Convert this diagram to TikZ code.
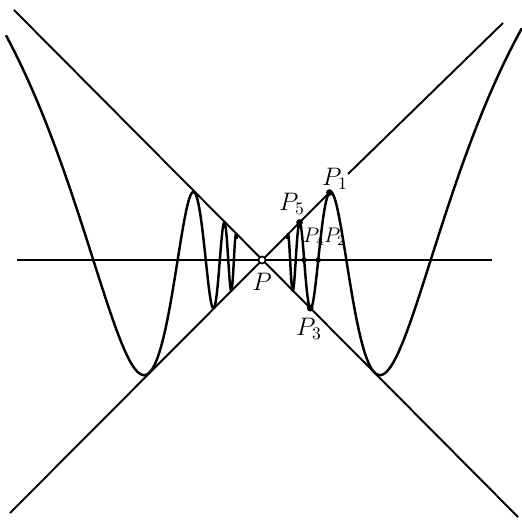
\documentclass[tikz,border=0pt]{standalone}
\usetikzlibrary{positioning}
\tikzset{
  axisline/.style={line width=0.9pt},
  sideline/.style={line width=1.1pt},
  curveline/.style={line width=1.4pt,line join=round},
  lbl/.style={inner sep=0.5pt,font=\Large},
  slbl/.style={inner sep=0.5pt,font=\large}
}
\begin{document}
\begin{tikzpicture}[x=0.2mm,y=0.2mm]
        \def\c{530}
        \useasboundingbox (-262,-260) rectangle (260,260);
        \coordinate (p) at (0,0);
        \coordinate (l1) at (-248,250);
        \coordinate (l2) at (256,-257);
        \coordinate (l3) at (-252,-253);
        \coordinate (l4) at (241,237);
        \coordinate (l5) at (86,86);
        \coordinate (h1) at (-245,0);
        \coordinate (h2) at (230,0);
        \coordinate (x1) at ({\c/(2.5*pi)},{\c/(2.5*pi)});
        \coordinate (x2) at ({\c/(3*pi)},0);
        \coordinate (x3) at ({\c/(3.5*pi)},{-\c/(3.5*pi)});
        \coordinate (x4) at ({\c/(4*pi)},0);
        \coordinate (x5) at ({\c/(4.5*pi)},{\c/(4.5*pi)});
        %Draw lines
        \draw[axisline] (h1) -- (h2);
        \draw[sideline] (l1) -- (l2);
        \draw[sideline] (l3) -- (x1);
        \draw[sideline] (l5) -- (l4);
        %Draw curve
        \draw[curveline] plot[domain=2.04:21,samples=400,variable=\t,smooth] ({\c/\t},{\c/\t*sin(\t r)});
        \draw[curveline] plot[domain=2.07:21,samples=400,variable=\t,smooth] ({-\c/\t},{\c/\t*sin(\t r)});
        %Draw points
        \fill (x1) circle (1.9pt);
        \fill (x2) circle (1.5pt);
        \fill (x3) circle (1.9pt);
        \fill (x4) circle (1.5pt);
        \fill (x5) circle (1.9pt);
        \draw[line width=0.9pt,fill=white] (p) circle (2pt);
        %Draw labels
        \node[lbl] (n1) at (73,81) {$P_1$};
        \node[slbl] (n2) at (73,23) {$P_2$};
        \node[lbl] (n3) at (47,-69) {$P_3$};
        \node[slbl] (n4) at (52,23) {$P_4$};
        \node[lbl] (n5) at (30,56) {$P_5$};
        \node[lbl] (n0) at (0,-22) {$P$};
\end{tikzpicture}
\end{document}
